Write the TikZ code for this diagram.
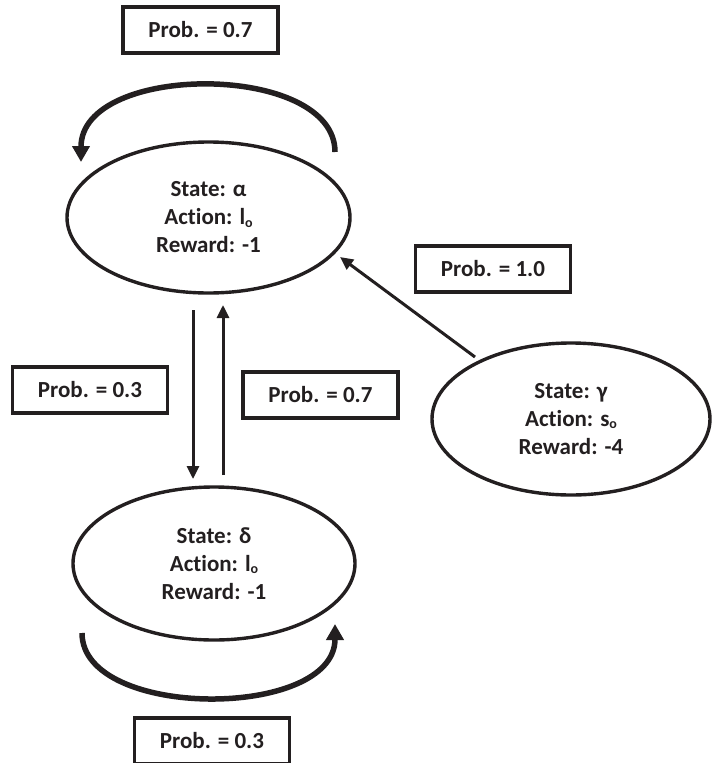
\documentclass[tikz,border=0pt]{standalone}
\usepackage{fontspec}
\setmainfont{Carlito}[Ligatures=NoCommon]
\usetikzlibrary{shapes.geometric,arrows.meta}
\definecolor{ink}{RGB}{35,31,32}
\newcommand{\subo}{\raisebox{-2.5pt}{\fontsize{14}{14}\selectfont o}}
\tikzset{
  statenode/.style={ellipse, draw=ink, line width=3.4pt, inner sep=0pt, align=center,
    text=ink, font=\fontsize{23}{28}\selectfont\bfseries},
  probbox/.style={rectangle, draw=ink, line width=3.4pt, minimum width=155pt, minimum height=46pt,
    inner sep=0pt, text=ink, font=\fontsize{23}{28}\selectfont\bfseries},
  looparrow/.style={draw=ink, line width=5.5pt, -{Triangle[length=16pt,width=17pt]}},
  straightarrow/.style={draw=ink, line width=3pt, -{Triangle[length=13pt,width=12pt]}}
}
\begin{document}
\begin{tikzpicture}[x=1pt,y=-1pt]
\useasboundingbox (0,0) rectangle (712,763);
% states
\node[statenode, minimum width=283pt, minimum height=151pt] (alpha) at (208.5,217.5)
  {State: α\\Action: l\subo\\Reward: -1};
\node[statenode, minimum width=282pt, minimum height=153pt] (delta) at (214,563.5)
  {State: δ\\Action: l\subo\\Reward: -1};
\node[statenode, minimum width=278pt, minimum height=152pt] (gamma) at (571,419)
  {State: γ\\Action: s\subo\\Reward: -4};
% probability boxes
\node[probbox] (ptop) at (200.5,30) {Prob. = 0.7};
\node[probbox] (pleft) at (90,390) {Prob. = 0.3};
\node[probbox] (pmid) at (320.5,395) {Prob. = 0.7};
\node[probbox] (pone) at (493,269) {Prob. = 1.0};
\node[probbox] (pbot) at (212,741) {Prob. = 0.3};
% connector end points
\coordinate (tl1) at (335,152);
\coordinate (tl2) at (81,162);
\coordinate (bl1) at (82,633);
\coordinate (bl2) at (335,624);
\coordinate (d1) at (193,310);
\coordinate (d2) at (193,479);
\coordinate (u1) at (223,475);
\coordinate (u2) at (223,305);
\coordinate (g1) at (475,357);
\coordinate (g2) at (340,257);
% loops
\draw[looparrow] (tl1) .. controls (335,62) and (81,62) .. (tl2);
\draw[looparrow] (bl1) .. controls (82,720) and (335,720) .. (bl2);
% straight arrows
\draw[straightarrow] (d1) -- (d2);
\draw[straightarrow] (u1) -- (u2);
\draw[straightarrow] (g1) -- (g2);
\end{tikzpicture}
\end{document}
